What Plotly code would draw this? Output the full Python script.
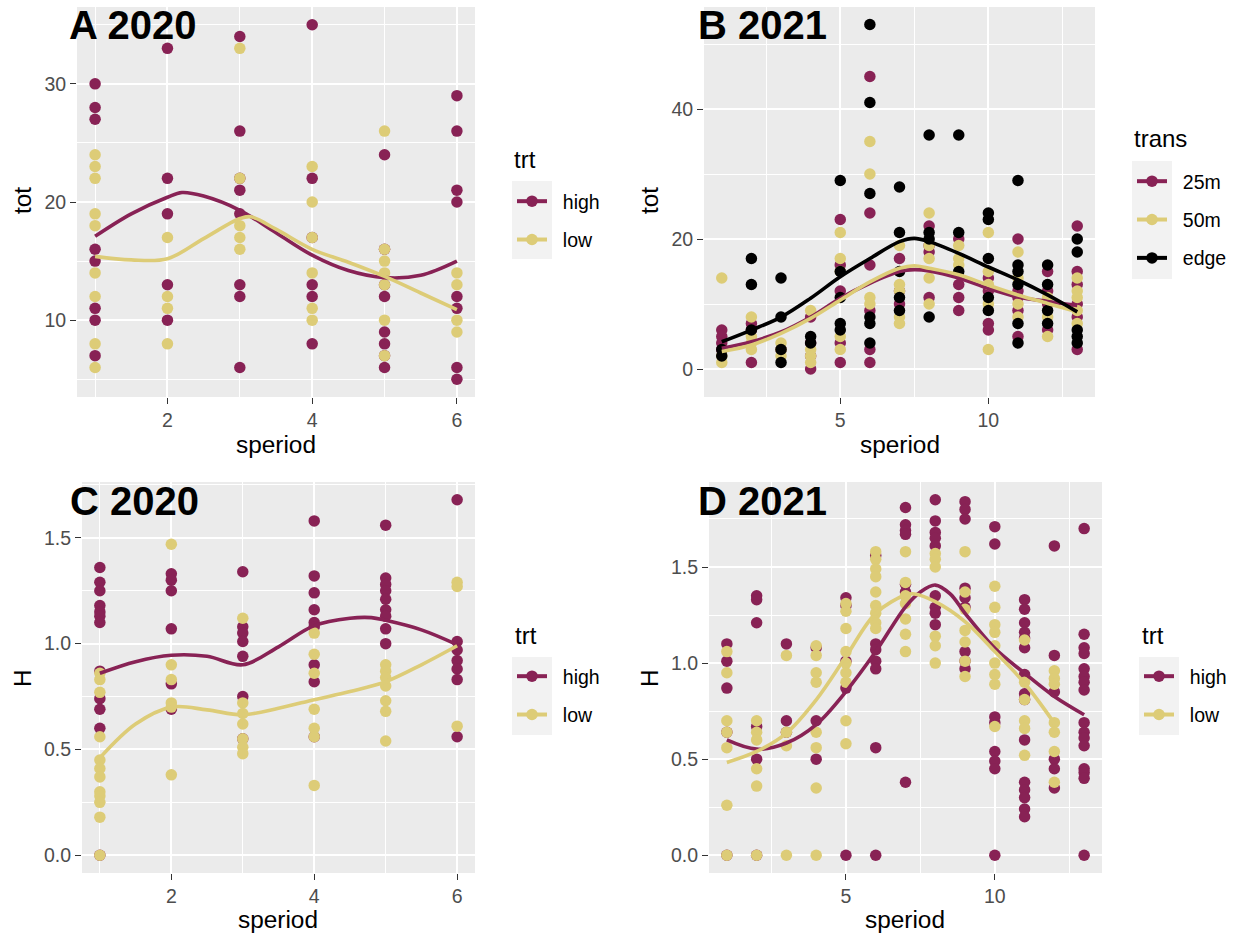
import plotly.graph_objects as go

W, H = 1238, 936
WINE = "#882255"
SAND = "#DDCC77"
INK = "#000000"
FONT = "Liberation Sans, Arial, sans-serif"
NB = "\u00a0\u00a0"  # gap between legend key and label

# ---- 2020 season: total counts (tot) per sampling period ----
speriod_2020 = [1, 2, 3, 4, 5, 6]
tot20_high = [[30, 28, 27, 16, 15, 11, 10, 7],
              [33, 22, 19, 13, 10],
              [34, 26, 22, 21, 19, 13, 12, 6],
              [35, 22, 17, 13, 12, 8],
              [24, 16, 13, 12, 9, 8, 7, 6],
              [29, 26, 21, 20, 12, 11, 6, 5]]
tot20_low = [[24, 23, 22, 19, 18, 14, 12, 8, 6],
             [17, 12, 11, 8],
             [33, 22, 18, 17, 16],
             [23, 20, 17, 14, 11, 10],
             [26, 16, 15, 14, 13, 10, 7],
             [14, 13, 10, 9]]
tot20_fit_x_high = [1, 1.5, 2, 2.2, 2.5, 3, 3.5, 4, 4.5, 5, 5.5, 6]
tot20_fit_high = [17.1, 19.0, 20.4, 20.8, 20.5, 19.3, 17.4, 15.5, 14.2, 13.6, 13.8, 15.0]
tot20_fit_x_low = [1, 1.5, 2, 2.5, 3, 3.15, 3.5, 4, 4.5, 5, 5.5, 6]
tot20_fit_low = [15.4, 15.1, 15.2, 16.9, 18.6, 18.75, 17.7, 16.0, 14.9, 13.7, 12.3, 10.9]

# ---- 2021 season: total counts (tot) per sampling period and transect ----
speriod_2021 = list(range(1, 14))
tot21_25m = [[6, 5, 4, 3], [7, 6, 1], [3], [8, 4, 2, 0], [23, 16, 12, 4, 1],
             [45, 24, 16, 9, 3, 1], [17, 12, 10], [22, 19, 18, 11], [20, 13, 11, 9],
             [14, 12, 7, 6], [20, 12, 11, 9, 5], [15, 12, 10, 6], [22, 15, 13, 10, 8, 3]]
tot21_50m = [[14, 2, 1], [8, 5, 4, 3], [4, 3, 2], [9, 3, 2, 1], [21, 17, 15, 5, 3],
             [35, 30, 11, 10], [19, 13, 12, 8, 7], [24, 19, 17, 14, 10], [19, 17, 16],
             [21, 15, 13, 10, 3], [18, 14, 10, 8], [11, 8, 5], [14, 12, 11, 9, 7]]
tot21_edge = [[3, 2], [17, 13, 6], [14, 8, 3, 1], [5, 4], [29, 15, 11, 7, 6],
              [53, 41, 27, 8, 7, 4], [28, 21, 15, 11, 9], [36, 21, 20, 8], [36, 21, 15],
              [24, 23, 17, 11, 9], [29, 16, 15, 13, 7, 4], [16, 13, 9, 7], [20, 18, 6, 5, 4]]
tot21_fit_x = [1, 2, 3, 4, 5, 6, 7, 7.5, 8, 9, 10, 11, 12, 13]
tot21_fit_25m = [3.2, 4.2, 5.7, 8.0, 10.9, 13.2, 15.0, 15.3, 15.1, 14.0, 12.4, 11.1, 10.4, 9.8]
tot21_fit_50m = [2.7, 3.7, 5.5, 7.8, 10.6, 13.4, 15.5, 15.9, 15.5, 14.5, 12.9, 11.4, 10.1, 8.8]
tot21_fit_edge = [4.2, 6.0, 8.0, 10.9, 14.2, 17.0, 19.6, 20.1, 19.6, 17.8, 15.7, 13.7, 11.4, 8.8]

# ---- 2020 season: diversity (H) ----
h20_high = [[1.36, 1.29, 1.25, 1.18, 1.15, 1.13, 1.10, 0.87, 0.74, 0.69, 0.60, 0],
            [1.33, 1.30, 1.25, 1.07, 0.81, 0.69],
            [1.34, 1.08, 1.05, 1.01, 0.94, 0.75, 0.55],
            [1.58, 1.32, 1.24, 1.16, 1.10, 1.08, 0.90, 0.82, 0.56],
            [1.56, 1.31, 1.28, 1.25, 1.21, 1.16, 1.13, 1.07, 1.00],
            [1.68, 1.01, 0.97, 0.92, 0.88, 0.83, 0.56]]
h20_low = [[0.86, 0.83, 0.77, 0.56, 0.45, 0.41, 0.37, 0.30, 0.28, 0.25, 0.18, 0],
           [1.47, 0.90, 0.83, 0.72, 0.70, 0.38],
           [1.12, 0.72, 0.67, 0.62, 0.55, 0.51, 0.48],
           [1.05, 0.95, 0.86, 0.69, 0.60, 0.56, 0.33],
           [0.90, 0.87, 0.84, 0.80, 0.73, 0.68, 0.54],
           [1.29, 1.27, 0.61]]
h20_fit_x_high = [1, 1.5, 2, 2.5, 3, 3.5, 4, 4.5, 4.8, 5, 5.5, 6]
h20_fit_high = [0.86, 0.915, 0.945, 0.94, 0.90, 0.985, 1.085, 1.12, 1.123, 1.11, 1.065, 0.995]
h20_fit_x_low = [1, 1.5, 2, 2.5, 3, 3.5, 4, 4.5, 5, 5.5, 6]
h20_fit_low = [0.46, 0.62, 0.70, 0.687, 0.664, 0.695, 0.735, 0.774, 0.82, 0.90, 0.99]

# ---- 2021 season: diversity (H) ----
h21_high = [[1.10, 1.01, 0.87, 0.64, 0],
            [1.35, 1.33, 1.21, 0.67, 0.50, 0],
            [1.10, 0.70, 0.64],
            [1.08, 0.70, 0.50],
            [1.34, 1.30, 1.01, 0.87, 0],
            [1.56, 1.10, 1.07, 1.01, 0.97, 0.56, 0],
            [1.81, 1.72, 1.69, 1.67, 1.41, 1.37, 0.38],
            [1.85, 1.74, 1.68, 1.65, 1.61, 1.35, 1.29, 1.26, 1.20],
            [1.84, 1.80, 1.75, 1.39, 1.34, 1.29, 1.06, 1.01, 0.97],
            [1.71, 1.62, 0.72, 0.69, 0.54, 0.49, 0.45, 0],
            [1.33, 1.28, 1.21, 1.16, 1.13, 1.08, 0.94, 0.84, 0.81, 0.60, 0.38, 0.34, 0.30, 0.24, 0.20],
            [1.61, 1.04, 0.85, 0.50, 0.45, 0.35],
            [1.70, 1.15, 1.08, 1.05, 0.97, 0.93, 0.90, 0.86, 0.69, 0.64, 0.61, 0.57, 0.45, 0.43, 0.40, 0]]
h21_low = [[1.06, 0.95, 0.70, 0.64, 0.56, 0.26, 0],
           [0.70, 0.64, 0.60, 0.45, 0.36, 0],
           [1.04, 0.64, 0.57, 0],
           [1.09, 1.04, 0.95, 0.90, 0.64, 0.56, 0.35, 0],
           [1.31, 1.27, 1.18, 1.06, 1.00, 0.95, 0.90, 0.70, 0.58],
           [1.58, 1.54, 1.49, 1.45, 1.37, 1.30, 1.26, 1.21, 1.18],
           [1.58, 1.42, 1.35, 1.31, 1.23, 1.15, 1.06],
           [1.57, 1.54, 1.50, 1.14, 1.09, 1.00],
           [1.58, 1.37, 1.28, 1.17, 1.11, 1.01, 0.93],
           [1.40, 1.29, 1.20, 1.16, 1.09, 1.00, 0.94, 0.89, 0.67],
           [1.12, 0.90, 0.81, 0.70, 0.66, 0.52],
           [0.96, 0.92, 0.89, 0.69, 0.64, 0.54, 0.38],
           []]
h21_fit_x_high = [1, 2, 3, 4, 5, 6, 7, 7.5, 8, 8.5, 9, 10, 11, 12, 13]
h21_fit_high = [0.60, 0.552, 0.584, 0.68, 0.852, 1.06, 1.293, 1.37, 1.406, 1.36, 1.259, 1.077, 0.947, 0.826, 0.731]
h21_fit_x_low = [1, 2, 3, 4, 5, 6, 7, 7.3, 8, 9, 10, 11, 12]
h21_fit_low = [0.483, 0.54, 0.636, 0.809, 1.034, 1.259, 1.354, 1.36, 1.32, 1.216, 1.06, 0.895, 0.687]


def px(x):
    return x / W


def py(y):
    return 1 - y / H


def flatten(periods, groups):
    xs, ys = [], []
    for p, vals in zip(periods, groups):
        for v in vals:
            xs.append(p)
            ys.append(v)
    return xs, ys


fig = go.Figure()


def add_panel(ax, series, fits, legend_name, entries):
    xa, ya = "x" + ax, "y" + ax
    for periods, groups, color in series:
        xs, ys = flatten(periods, groups)
        fig.add_trace(go.Scatter(x=xs, y=ys, mode="markers", xaxis=xa, yaxis=ya,
                                 marker=dict(size=11.5, color=color, line=dict(width=0)),
                                 showlegend=False, hoverinfo="skip"))
    for fx, fy, color in fits:
        fig.add_trace(go.Scatter(x=fx, y=fy, mode="lines", xaxis=xa, yaxis=ya,
                                 line=dict(color=color, width=3.6, shape="spline", smoothing=1.0),
                                 showlegend=False, hoverinfo="skip"))
    # key entries: line plus point, as in the grouped legend
    for name, color in entries:
        fig.add_trace(go.Scatter(x=[None], y=[None], mode="lines+markers", xaxis=xa, yaxis=ya,
                                 name=NB + name, legend=legend_name,
                                 legendgroup=legend_name + name,
                                 line=dict(color=color, width=4),
                                 marker=dict(size=11.5, color=color)))


add_panel("", [(speriod_2020, tot20_high, WINE), (speriod_2020, tot20_low, SAND)],
          [(tot20_fit_x_high, tot20_fit_high, WINE), (tot20_fit_x_low, tot20_fit_low, SAND)],
          "legend", [("high", WINE), ("low", SAND)])
add_panel("2", [(speriod_2021, tot21_25m, WINE), (speriod_2021, tot21_50m, SAND),
                (speriod_2021, tot21_edge, INK)],
          [(tot21_fit_x, tot21_fit_25m, WINE), (tot21_fit_x, tot21_fit_50m, SAND),
           (tot21_fit_x, tot21_fit_edge, INK)],
          "legend2", [("25m", WINE), ("50m", SAND), ("edge", INK)])
add_panel("3", [(speriod_2020, h20_high, WINE), (speriod_2020, h20_low, SAND)],
          [(h20_fit_x_high, h20_fit_high, WINE), (h20_fit_x_low, h20_fit_low, SAND)],
          "legend3", [("high", WINE), ("low", SAND)])
add_panel("4", [(speriod_2021, h21_high, WINE), (speriod_2021, h21_low, SAND)],
          [(h21_fit_x_high, h21_fit_high, WINE), (h21_fit_x_low, h21_fit_low, SAND)],
          "legend4", [("high", WINE), ("low", SAND)])

TICKFONT = dict(family=FONT, size=19.5, color="#4D4D4D")


def axis(domain, rng, dtick, minor, anchor, fmt=None):
    d = dict(domain=domain, range=rng, anchor=anchor, tick0=0, dtick=dtick,
             showgrid=True, gridcolor="white", gridwidth=2.2, zeroline=False,
             showline=False, ticks="outside", ticklen=6, tickwidth=1.2,
             tickcolor="#333333", tickfont=TICKFONT, ticklabelstandoff=0,
             minor=dict(tick0=0, dtick=minor, showgrid=True, gridcolor="white",
                        gridwidth=1.1, ticks=""))
    if fmt:
        d["tickformat"] = fmt
    return d


# plot-area frames in pixels: (left, right, top, bottom)
box_a = (77, 475, 7, 397)
box_b = (704, 1095, 7, 397)
box_c = (82, 475, 482, 873)
box_d = (709, 1102, 482, 873)


def xdom(b):
    return [px(b[0]), px(b[1])]


def ydom(b):
    return [py(b[3]), py(b[2])]


layout = dict(
    width=W, height=H, margin=dict(l=0, r=0, t=0, b=0),
    paper_bgcolor="white", plot_bgcolor="#EBEBEB",
    font=dict(family=FONT, color="black"),
    xaxis=axis(xdom(box_a), [0.75, 6.25], 2, 1, "y"),
    yaxis=axis(ydom(box_a), [3.5, 36.5], 10, 5, "x"),
    xaxis2=axis(xdom(box_b), [0.4, 13.6], 5, 2.5, "y2"),
    yaxis2=axis(ydom(box_b), [-4.3, 55.7], 20, 10, "x2"),
    xaxis3=axis(xdom(box_c), [0.75, 6.25], 2, 1, "y3"),
    yaxis3=axis(ydom(box_c), [-0.084, 1.764], 0.5, 0.25, "x3", ".1f"),
    xaxis4=axis(xdom(box_d), [0.4, 13.6], 5, 2.5, "y4"),
    yaxis4=axis(ydom(box_d), [-0.0925, 1.9425], 0.5, 0.25, "x4", ".1f"),
)


def legend_at(left, top):
    return dict(x=px(left), y=py(top), xanchor="left", yanchor="top",
                bgcolor="rgba(0,0,0,0)", borderwidth=0,
                font=dict(family=FONT, size=19.5, color="black"),
                tracegroupgap=10, traceorder="grouped", itemsizing="trace")


layout["legend"] = legend_at(512, 182)
layout["legend2"] = legend_at(1132, 162)
layout["legend3"] = legend_at(512, 657)
layout["legend4"] = legend_at(1139, 657)
fig.update_layout(**layout)

# grey key backgrounds behind the legend symbols
shapes = []
for (l, t, b) in [(512, 181, 259), (1132, 161, 279), (512, 657, 735), (1139, 657, 735)]:
    shapes.append(dict(type="rect", xref="paper", yref="paper", x0=px(l), x1=px(l + 40),
                       y0=py(b), y1=py(t), fillcolor="#F2F2F2", line=dict(width=0),
                       layer="below"))
fig.update_layout(shapes=shapes)

ann = []
# panel tags
for text, x, y in [("A 2020", 67, 25), ("B 2021", 696, 25), ("C 2020", 68, 501), ("D 2021", 696, 501)]:
    ann.append(dict(text="<b>%s</b>" % text, x=px(x), y=py(y), xref="paper", yref="paper",
                    xanchor="left", yanchor="middle", showarrow=False,
                    font=dict(family=FONT, size=40, color="black")))
# legend titles
for text, x, y in [("trt", 512, 159), ("trans", 1132, 138), ("trt", 513, 635), ("trt", 1140, 635)]:
    ann.append(dict(text=text, x=px(x), y=py(y), xref="paper", yref="paper",
                    xanchor="left", yanchor="middle", showarrow=False,
                    font=dict(family=FONT, size=24, color="black")))
# axis titles
for text, x, y, ang in [("tot", 22, 201, -90), ("speriod", 276, 444, 0),
                        ("tot", 649, 201, -90), ("speriod", 900, 444, 0),
                        ("H", 22, 678, -90), ("speriod", 278, 919, 0),
                        ("H", 649, 678, -90), ("speriod", 905, 919, 0)]:
    ann.append(dict(text=text, x=px(x), y=py(y), xref="paper", yref="paper",
                    xanchor="center", yanchor="middle", showarrow=False, textangle=ang,
                    font=dict(family=FONT, size=24.4, color="black")))
fig.update_layout(annotations=ann)

fig.write_html("out.html")
